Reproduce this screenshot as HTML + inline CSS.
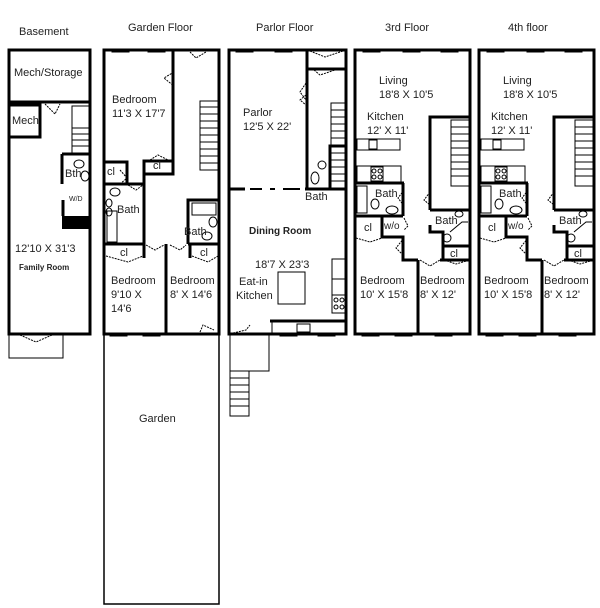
<!DOCTYPE html>
<html><head><meta charset="utf-8"><style>
html,body{margin:0;padding:0;background:#fff;width:600px;height:608px;overflow:hidden}
svg text{font-family:"Liberation Sans",sans-serif;font-size:11px;fill:#222}
</style></head><body>
<svg width="600" height="608" viewBox="0 0 600 608" xmlns="http://www.w3.org/2000/svg">
<g fill="none" stroke="#000">
<!-- titles -->
</g>
<text x="19" y="35">Basement</text>
<text x="128" y="31">Garden Floor</text>
<text x="256" y="31">Parlor Floor</text>
<text x="385" y="31">3rd Floor</text>
<text x="508" y="31">4th floor</text>

<!-- BASEMENT -->
<g fill="none" stroke="#000" stroke-width="3">
<rect x="9" y="50" width="81" height="284"/>
<line x1="9" y1="102" x2="90" y2="102"/>
<polyline points="10,105 40,105 40,137 10,137"/>
<polyline points="62,154 90,154 M62,154 62,184 90,184"/>
<line x1="62" y1="154" x2="62" y2="184"/>
<line x1="63" y1="200" x2="63" y2="216"/>
</g>
<rect x="62" y="216" width="28" height="13" fill="#000"/>
<g fill="none" stroke="#000" stroke-width="1">
<rect x="72" y="106" width="17" height="47"/>
<line x1="72" y1="128" x2="89" y2="128"/><line x1="72" y1="134" x2="89" y2="134"/><line x1="72" y1="140" x2="89" y2="140"/><line x1="72" y1="146" x2="89" y2="146"/>
<ellipse cx="79" cy="164" rx="5" ry="4"/><ellipse cx="85" cy="176" rx="4" ry="5"/>
<polyline points="45,104 55,114 60,104" stroke-dasharray="2,1"/>
<rect x="9" y="334" width="54" height="24"/>
<polyline points="20,335 36,342 52,335" stroke-dasharray="2,1"/>
</g>
<text x="14" y="76">Mech/Storage</text>
<text x="12" y="124">Mech</text>
<text x="65" y="177">Bth</text>
<text x="69" y="201" style="font-size:7px">W/D</text>
<text x="15" y="252">12'10 X 31'3</text>
<text x="19" y="270" style="font-size:8px;font-weight:bold">Family Room</text>

<!-- GARDEN -->
<g fill="none" stroke="#000" stroke-width="3">
<rect x="104" y="50" width="115" height="284"/>
<line x1="173" y1="50" x2="173" y2="161"/>
<polyline points="144,184 144,161 173,161 173,174 144,174"/>
<polyline points="104,162 127,162 127,184"/>
<line x1="104" y1="184" x2="144" y2="184"/>
<line x1="144" y1="174" x2="144" y2="244"/>
<polyline points="188,244 188,200 219,200"/>
<line x1="104" y1="244" x2="145" y2="244"/>
<line x1="188" y1="244" x2="219" y2="244"/>
<line x1="166" y1="244" x2="166" y2="334"/>
<line x1="144" y1="244" x2="144" y2="258"/>
<line x1="190" y1="244" x2="190" y2="258"/>
</g>
<g fill="none" stroke="#000" stroke-width="1">
<rect x="104" y="334" width="115" height="270" stroke-width="1.5"/>
<rect x="200" y="101" width="18" height="69"/>
<line x1="200" y1="107" x2="218" y2="107"/><line x1="200" y1="114" x2="218" y2="114"/><line x1="200" y1="121" x2="218" y2="121"/><line x1="200" y1="128" x2="218" y2="128"/><line x1="200" y1="135" x2="218" y2="135"/><line x1="200" y1="142" x2="218" y2="142"/><line x1="200" y1="149" x2="218" y2="149"/><line x1="200" y1="156" x2="218" y2="156"/><line x1="200" y1="163" x2="218" y2="163"/>
<rect x="107" y="211" width="10" height="31"/>
<ellipse cx="115" cy="192" rx="5" ry="4"/><ellipse cx="109" cy="203" rx="3" ry="4"/><ellipse cx="109" cy="212" rx="3" ry="4"/>
<rect x="192" y="203" width="24" height="12"/><ellipse cx="213" cy="222" rx="4" ry="5"/><ellipse cx="207" cy="236" rx="5" ry="4"/>
<polyline points="112,50 130,50 M148,50 166,50"/>
<rect x="112" y="49" width="17" height="3"/><rect x="148" y="49" width="17" height="3"/>
<rect x="110" y="333" width="17" height="3"/><rect x="143" y="333" width="17" height="3"/>
<polyline points="190,52 196,58 206,52" stroke-dasharray="2,1"/>
<polyline points="174,72 164,78 174,86" stroke-dasharray="2,1"/>
<polyline points="120,170 127,178 120,184" stroke-dasharray="2,1"/>
<polyline points="150,160 158,155 168,160" stroke-dasharray="2,1"/>
<polyline points="128,185 136,190 143,185" stroke-dasharray="2,1"/>
<polyline points="106,256 128,262 143,256" stroke-dasharray="2,1"/>
<polyline points="146,245 155,250 164,245" stroke-dasharray="2,1"/>
<polyline points="170,245 180,250 186,245" stroke-dasharray="2,1"/>
<polyline points="192,256 208,262 218,256" stroke-dasharray="2,1"/>
<polyline points="200,332 203,325 214,330" stroke-dasharray="2,1"/>
</g>
<text x="112" y="103">Bedroom</text>
<text x="112" y="117">11'3 X 17'7</text>
<text x="107" y="175">cl</text>
<text x="153" y="169">cl</text>
<text x="117" y="213">Bath</text>
<text x="184" y="235">Bath</text>
<text x="120" y="256">cl</text>
<text x="200" y="256">cl</text>
<text x="111" y="284">Bedroom</text>
<text x="111" y="298">9'10 X</text>
<text x="111" y="312">14'6</text>
<text x="170" y="284">Bedroom</text>
<text x="170" y="298">8' X 14'6</text>
<text x="139" y="422">Garden</text>

<!-- PARLOR -->
<g fill="none" stroke="#000" stroke-width="3">
<rect x="229" y="50" width="117" height="284"/>
<line x1="307" y1="50" x2="307" y2="189"/>
<line x1="307" y1="69" x2="346" y2="69"/>
<polyline points="330,189 330,146 346,146"/>
<line x1="229" y1="189" x2="245" y2="189"/><line x1="305" y1="189" x2="346" y2="189"/>
<line x1="270" y1="321" x2="346" y2="321"/>
</g>
<g fill="none" stroke="#000" stroke-width="1">
<rect x="230" y="334" width="39" height="37"/>
<rect x="230" y="371" width="19" height="45"/>
<line x1="230" y1="378" x2="249" y2="378"/><line x1="230" y1="385" x2="249" y2="385"/><line x1="230" y1="392" x2="249" y2="392"/><line x1="230" y1="399" x2="249" y2="399"/><line x1="230" y1="406" x2="249" y2="406"/>
<rect x="331" y="103" width="15" height="43"/>
<line x1="331" y1="110" x2="346" y2="110"/><line x1="331" y1="117" x2="346" y2="117"/><line x1="331" y1="124" x2="346" y2="124"/><line x1="331" y1="131" x2="346" y2="131"/><line x1="331" y1="138" x2="346" y2="138"/>
<line x1="331" y1="153" x2="346" y2="153"/><line x1="331" y1="160" x2="346" y2="160"/><line x1="331" y1="167" x2="346" y2="167"/><line x1="331" y1="174" x2="346" y2="174"/><line x1="331" y1="181" x2="346" y2="181"/>
<ellipse cx="322" cy="165" rx="4" ry="4"/><ellipse cx="315" cy="178" rx="4" ry="6"/>
<line x1="250" y1="189" x2="262" y2="189" stroke-width="2"/><line x1="270" y1="189" x2="275" y2="189" stroke-width="2"/><line x1="283" y1="189" x2="300" y2="189" stroke-width="2"/>
<rect x="278" y="272" width="27" height="32"/>
<rect x="332" y="259" width="14" height="20"/><rect x="332" y="279" width="14" height="16"/><rect x="332" y="295" width="14" height="18"/>
<circle cx="336" cy="300" r="2"/><circle cx="342" cy="300" r="2"/><circle cx="336" cy="307" r="2"/><circle cx="342" cy="307" r="2"/>
<rect x="272" y="322" width="74" height="11"/><rect x="297" y="324" width="13" height="8"/>
<rect x="236" y="49" width="17" height="3"/><rect x="275" y="49" width="17" height="3"/>
<rect x="280" y="333" width="17" height="3"/><rect x="318" y="333" width="17" height="3"/>
<polyline points="310,51 325,57 343,51" stroke-dasharray="2,1"/>
<polyline points="314,70 320,75 335,70" stroke-dasharray="2,1"/>
<polyline points="306,83 300,92 306,100" stroke-dasharray="2,1"/>
<polyline points="306,95 300,100 306,105" stroke-dasharray="2,1"/>
<polyline points="233,333 246,330 250,325" stroke-dasharray="2,1"/>
</g>
<text x="243" y="116">Parlor</text>
<text x="243" y="130">12'5 X 22'</text>
<text x="305" y="200">Bath</text>
<text x="249" y="234" style="font-size:10px;font-weight:bold">Dining Room</text>
<text x="255" y="268">18'7 X 23'3</text>
<text x="239" y="285">Eat-in</text>
<text x="236" y="299">Kitchen</text>

<!-- 3RD FLOOR -->
<g id="fl3">
<g fill="none" stroke="#000" stroke-width="3">
<rect x="355" y="50" width="115" height="284"/>
<polyline points="430,210 430,117 470,117"/>
<line x1="355" y1="183" x2="404" y2="183"/>
<line x1="403" y1="183" x2="403" y2="216"/>
<line x1="355" y1="216" x2="403" y2="216"/>
<polyline points="382,216 382,237 403,237 403,260 418,260"/>
<line x1="440" y1="260" x2="470" y2="260"/>
<line x1="418" y1="260" x2="418" y2="334"/>
<polyline points="430,210 470,210"/>
<polyline points="430,225 430,232 443,232 443,260"/>
<line x1="443" y1="246" x2="470" y2="246"/>
</g>
<g fill="none" stroke="#000" stroke-width="1">
<rect x="357" y="139" width="43" height="11"/><rect x="369" y="140" width="8" height="9"/>
<rect x="357" y="166" width="44" height="16"/><rect x="371" y="167" width="12" height="14"/>
<circle cx="374" cy="171" r="2"/><circle cx="380" cy="171" r="2"/><circle cx="374" cy="177" r="2"/><circle cx="380" cy="177" r="2"/>
<rect x="451" y="120" width="18" height="66"/>
<line x1="451" y1="127" x2="469" y2="127"/><line x1="451" y1="134" x2="469" y2="134"/><line x1="451" y1="141" x2="469" y2="141"/><line x1="451" y1="148" x2="469" y2="148"/><line x1="451" y1="155" x2="469" y2="155"/><line x1="451" y1="162" x2="469" y2="162"/><line x1="451" y1="169" x2="469" y2="169"/><line x1="451" y1="176" x2="469" y2="176"/>
<rect x="357" y="186" width="10" height="27"/>
<ellipse cx="375" cy="204" rx="4" ry="5"/><ellipse cx="392" cy="210" rx="6" ry="4"/>
<ellipse cx="459" cy="214" rx="4" ry="3"/><ellipse cx="447" cy="238" rx="4" ry="4"/><polyline points="450,232 462,222 468,222"/>
<rect x="363" y="49" width="17" height="3"/><rect x="403" y="49" width="17" height="3"/><rect x="441" y="49" width="17" height="3"/>
<rect x="362" y="333" width="17" height="3"/><rect x="395" y="333" width="17" height="3"/><rect x="435" y="333" width="17" height="3"/>
<polyline points="356,238 370,242 382,238" stroke-dasharray="2,1"/>
<polyline points="404,190 398,198 404,206" stroke-dasharray="2,1"/>
<polyline points="404,218 408,226 404,230" stroke-dasharray="2,1"/>
<polyline points="404,238 396,248 404,256" stroke-dasharray="2,1"/>
<polyline points="430,192 424,200 430,205" stroke-dasharray="2,1"/>
<polyline points="420,260 430,266 440,260" stroke-dasharray="2,1"/>
<polyline points="444,260 456,264 470,260" stroke-dasharray="2,1"/>
</g>
<text x="379" y="84">Living</text>
<text x="379" y="98">18'8 X 10'5</text>
<text x="367" y="120">Kitchen</text>
<text x="367" y="134">12' X 11'</text>
<text x="375" y="197">Bath</text>
<text x="364" y="231">cl</text>
<text x="384" y="229" style="font-size:10px">w/o</text>
<text x="435" y="224">Bath</text>
<text x="450" y="257">cl</text>
<text x="360" y="284">Bedroom</text>
<text x="360" y="298">10' X 15'8</text>
<text x="420" y="284">Bedroom</text>
<text x="420" y="298">8' X 12'</text>
</g>
<!-- 4TH FLOOR -->
<g transform="translate(124,0)">
<g fill="none" stroke="#000" stroke-width="3">
<rect x="355" y="50" width="115" height="284"/>
<polyline points="430,210 430,117 470,117"/>
<line x1="355" y1="183" x2="404" y2="183"/>
<line x1="403" y1="183" x2="403" y2="216"/>
<line x1="355" y1="216" x2="403" y2="216"/>
<polyline points="382,216 382,237 403,237 403,260 418,260"/>
<line x1="440" y1="260" x2="470" y2="260"/>
<line x1="418" y1="260" x2="418" y2="334"/>
<polyline points="430,210 470,210"/>
<polyline points="430,225 430,232 443,232 443,260"/>
<line x1="443" y1="246" x2="470" y2="246"/>
</g>
<g fill="none" stroke="#000" stroke-width="1">
<rect x="357" y="139" width="43" height="11"/><rect x="369" y="140" width="8" height="9"/>
<rect x="357" y="166" width="44" height="16"/><rect x="371" y="167" width="12" height="14"/>
<circle cx="374" cy="171" r="2"/><circle cx="380" cy="171" r="2"/><circle cx="374" cy="177" r="2"/><circle cx="380" cy="177" r="2"/>
<rect x="451" y="120" width="18" height="66"/>
<line x1="451" y1="127" x2="469" y2="127"/><line x1="451" y1="134" x2="469" y2="134"/><line x1="451" y1="141" x2="469" y2="141"/><line x1="451" y1="148" x2="469" y2="148"/><line x1="451" y1="155" x2="469" y2="155"/><line x1="451" y1="162" x2="469" y2="162"/><line x1="451" y1="169" x2="469" y2="169"/><line x1="451" y1="176" x2="469" y2="176"/>
<rect x="357" y="186" width="10" height="27"/>
<ellipse cx="375" cy="204" rx="4" ry="5"/><ellipse cx="392" cy="210" rx="6" ry="4"/>
<ellipse cx="459" cy="214" rx="4" ry="3"/><ellipse cx="447" cy="238" rx="4" ry="4"/><polyline points="450,232 462,222 468,222"/>
<rect x="363" y="49" width="17" height="3"/><rect x="403" y="49" width="17" height="3"/><rect x="441" y="49" width="17" height="3"/>
<rect x="362" y="333" width="17" height="3"/><rect x="395" y="333" width="17" height="3"/><rect x="435" y="333" width="17" height="3"/>
<polyline points="356,238 370,242 382,238" stroke-dasharray="2,1"/>
<polyline points="404,190 398,198 404,206" stroke-dasharray="2,1"/>
<polyline points="404,218 408,226 404,230" stroke-dasharray="2,1"/>
<polyline points="404,238 396,248 404,256" stroke-dasharray="2,1"/>
<polyline points="430,192 424,200 430,205" stroke-dasharray="2,1"/>
<polyline points="420,260 430,266 440,260" stroke-dasharray="2,1"/>
<polyline points="444,260 456,264 470,260" stroke-dasharray="2,1"/>
</g>
<text x="379" y="84">Living</text>
<text x="379" y="98">18'8 X 10'5</text>
<text x="367" y="120">Kitchen</text>
<text x="367" y="134">12' X 11'</text>
<text x="375" y="197">Bath</text>
<text x="364" y="231">cl</text>
<text x="384" y="229" style="font-size:10px">w/o</text>
<text x="435" y="224">Bath</text>
<text x="450" y="257">cl</text>
<text x="360" y="284">Bedroom</text>
<text x="360" y="298">10' X 15'8</text>
<text x="420" y="284">Bedroom</text>
<text x="420" y="298">8' X 12'</text>
</g>
</svg>
</body></html>
